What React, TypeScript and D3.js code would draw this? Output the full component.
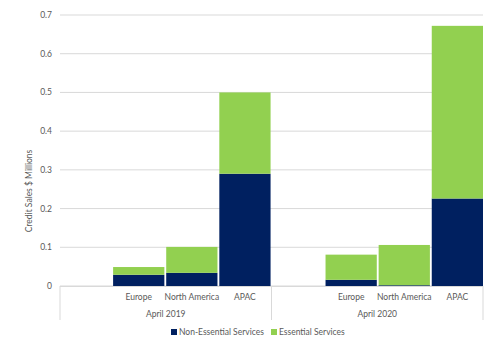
import React from 'react';
import * as d3 from 'd3';

// data
const periods = ['April 2019', 'April 2020'];
const regions = ['', 'Europe', 'North America', 'APAC'];
const nonEssential = [
  [0, 0.029, 0.034, 0.29],
  [0, 0.016, 0.002, 0.226],
];
const essential = [
  [0, 0.02, 0.067, 0.21],
  [0, 0.065, 0.104, 0.446],
];
const yTicks = [0, 0.1, 0.2, 0.3, 0.4, 0.5, 0.6, 0.7];
const seriesNames = ['Non-Essential Services', 'Essential Services'];
const colors = ['#002060', '#92D050'];

export default function App() {
  const W = 488, H = 351;
  const left = 60, right = 483, top = 15, bottom = 286;
  const font = 'Lato, "Open Sans", sans-serif';
  const textColor = '#595959';

  const keys: string[] = [];
  periods.forEach((p) => regions.forEach((r) => keys.push(p + '|' + r)));

  const x = d3.scaleBand().domain(keys).range([left, right]).paddingInner(0.035).paddingOuter(0.0);
  const xGroup = d3.scaleBand().domain(periods).range([left, right]);
  const y = d3.scaleLinear().domain([0, 0.7]).range([bottom, top]);

  const bars: any[] = [];
  periods.forEach((p, gi) => {
    regions.forEach((r, ri) => {
      const k = p + '|' + r;
      const a = nonEssential[gi][ri];
      const b = essential[gi][ri];
      if (a + b <= 0) return;
      bars.push(
        <rect key={k + 'a'} x={x(k)} y={y(a)} width={x.bandwidth()} height={y(0) - y(a)} fill={colors[0]} />
      );
      bars.push(
        <rect key={k + 'b'} x={x(k)} y={y(a + b)} width={x.bandwidth()} height={y(a) - y(a + b)} fill={colors[1]} />
      );
    });
  });

  return (
    <div style={{ position: 'absolute', left: 0, top: 0 }}>
      <svg width={W} height={H} style={{ display: 'block', background: '#fff' }} fontFamily={font}>
        {/* gridlines */}
        {yTicks.map((t) => (
          <line key={'g' + t} x1={left} x2={right} y1={y(t)} y2={y(t)} stroke="#d9d9d9" strokeWidth={1} />
        ))}
        {yTicks.map((t) => (
          <text key={'t' + t} x={52} y={y(t)} dy="0.35em" textAnchor="end" fontSize={8.5} fill={textColor}>
            {t === 0 ? '0' : d3.format('.1f')(t)}
          </text>
        ))}
        <text
          transform={`translate(29,191) rotate(-90)`}
          textAnchor="middle"
          dy="0.35em"
          fontSize={8.5}
          fill={textColor}
        >
          Credit Sales $ Millions
        </text>
        {bars}
        {/* category axis */}
        <line x1={left} x2={right} y1={bottom + 0.5} y2={bottom + 0.5} stroke="#d9d9d9" />
        {[left, left + xGroup.step(), right].map((v, i) => (
          <line key={'s' + i} x1={v} x2={v} y1={bottom} y2={320} stroke="#d9d9d9" />
        ))}
        {keys.map((k) => (
          <text key={'l' + k} x={(x(k) as number) + x.bandwidth() / 2} y={297} dy="0.35em" textAnchor="middle" fontSize={8.5} fill={textColor}>
            {k.split('|')[1]}
          </text>
        ))}
        {periods.map((p) => (
          <text key={'p' + p} x={(xGroup(p) as number) + xGroup.bandwidth() / 2} y={314} dy="0.35em" textAnchor="middle" fontSize={8.5} fill={textColor}>
            {p}
          </text>
        ))}
        {/* legend */}
        {seriesNames.map((s, i) => {
          const lx = i === 0 ? 171 : 271;
          return (
            <g key={s} transform={`translate(${lx},332)`}>
              <rect x={0} y={-3} width={6} height={6} fill={colors[i]} />
              <text x={8} y={0} dy="0.35em" fontSize={8.5} fill={textColor}>{s}</text>
            </g>
          );
        })}
      </svg>
    </div>
  );
}
